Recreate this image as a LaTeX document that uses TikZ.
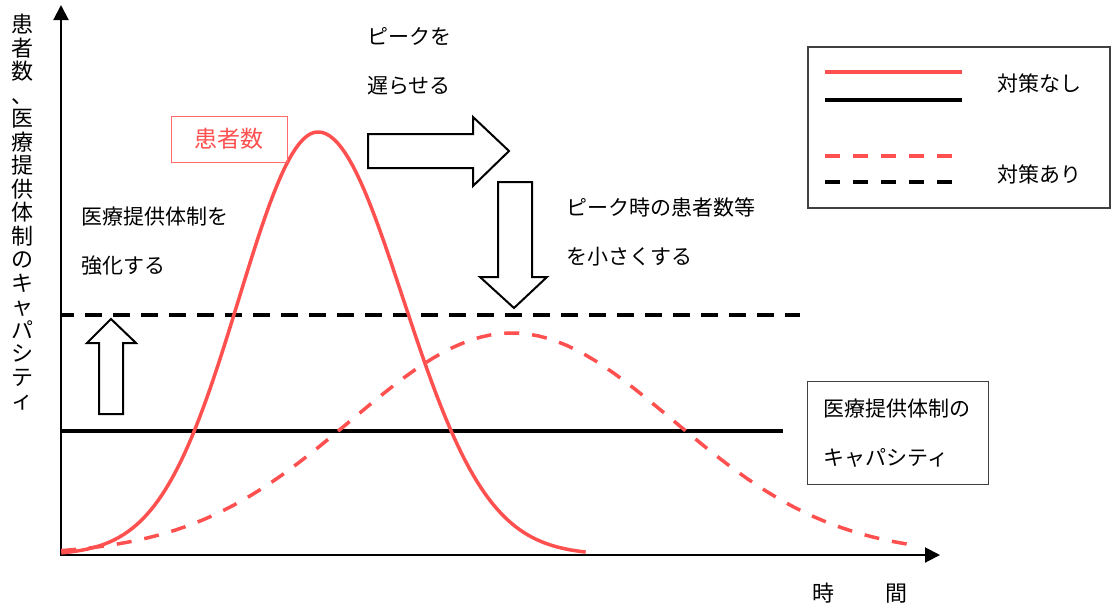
\documentclass[tikz,border=0pt]{standalone}
\usepackage{fontspec}
\setmainfont{Noto Sans CJK JP}
\usetikzlibrary{arrows.meta}
\definecolor{curvered}{HTML}{FF5050}

\begin{document}
\begin{tikzpicture}[x=1pt,y=-1pt,
  redline/.style={draw=curvered,line width=3.5pt},
  blackline/.style={draw=black,line width=3.8pt},
  dashline/.style={dash pattern=on 15pt off 13pt},
  hollow/.style={draw=black,line width=2pt,fill=white},
  axis/.style={line width=2pt,-{Triangle[length=15pt,width=15pt]}},
  note/.style={font=\fontsize{21}{48.5}\selectfont,align=left,anchor=west,inner sep=0pt},
  framebox/.style={draw=black!75,line width=1.3pt}]
\useasboundingbox (0,0) rectangle (1116,611);
\draw[axis] (61,556) -- (61,5);
\draw[axis] (60,555) -- (940,555);
\draw[blackline] (62,431) -- (783,431);
\draw[blackline,dash pattern=on 17pt off 11pt,dash phase=5pt] (62,315) -- (800,315);
\draw[redline] plot[domain=-3.25:0,samples=70] ({318+79*\x},{555-423*exp(-\x*\x/2)})
  -- plot[domain=0:3.15,samples=70] ({318+85*\x},{555-423*exp(-\x*\x/2)});
\draw[redline,dashline] plot[domain=-2.8:2.47,samples=90] ({512+161*\x},{555-222*exp(-\x*\x/2)});
\draw[hollow] (99,414) -- (123,414) -- (123,343) -- (136,343) -- (111,319) -- (87,343) -- (99,343) -- cycle;
\draw[hollow] (368,134) -- (473,134) -- (473,117) -- (509,151) -- (473,186) -- (473,168) -- (368,168) -- cycle;
\draw[hollow] (498,182) -- (532,182) -- (532,277) -- (547,277) -- (514,308) -- (480,277) -- (498,277) -- cycle;
\node[font=\fontsize{22}{23.5}\selectfont,align=center,inner sep=0pt,anchor=north] (ylbl) at (23,14)
  {患\\者\\数\\、\\医\\療\\提\\供\\体\\制\\の\\キ\\ャ\\パ\\シ\\テ\\ィ};
\node[draw=curvered!85,line width=1pt,text=curvered,minimum width=116pt,minimum height=46pt,
  font=\fontsize{23}{23}\selectfont] (patients) at (229,139) {患者数};
\node[note] (boost) at (81,241) {医療提供体制を\\強化する};
\node[note] (delay) at (367,61) {ピークを\\遅らせる};
\node[note] (shrink) at (566,232) {ピーク時の患者数等\\を小さくする};
\node[framebox,note,anchor=north west,minimum width=181pt,minimum height=103pt,
  text width=149pt,inner xsep=16pt] (capbox) at (807,381) {医療提供体制の\\キャパシティ};
\node[font=\fontsize{22}{22}\selectfont] (timelbl) at (860,593) {時\hspace{51pt}間};
\draw[framebox] (808,47) rectangle (1110,208);
\draw[redline] (825,72) -- (962,72);
\draw[blackline] (825,100) -- (962,100);
\draw[redline,dashline] (825,156) -- (953,156);
\draw[blackline,dashline] (825,182) -- (953,182);
\node[note] (nocase) at (997,83) {対策なし};
\node[note] (withcase) at (997,174) {対策あり};
\end{tikzpicture}
\end{document}
